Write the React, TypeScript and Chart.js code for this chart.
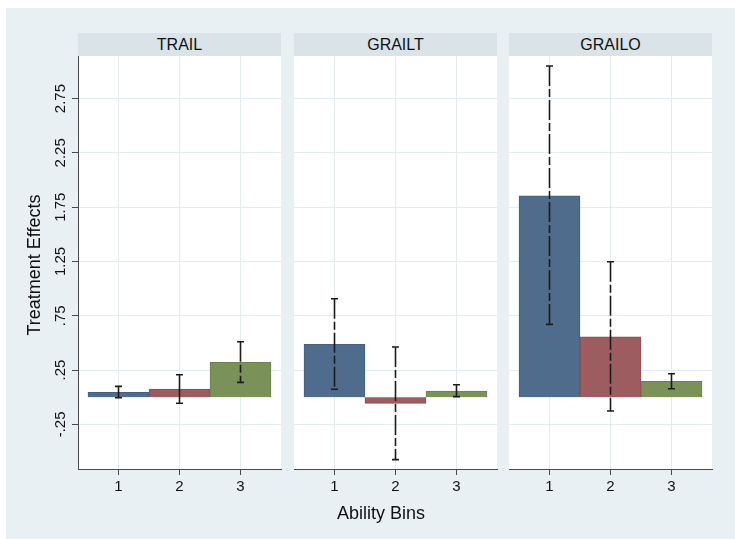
import React, { useEffect, useRef } from "react";
import { Chart, registerables } from "chart.js";

Chart.register(...registerables);

// ---------- data ----------
const panelNames = ["TRAIL", "GRAILT", "GRAILO"];
const binLabels = ["1", "2", "3"];

const trailEffects = [0.045, 0.075, 0.322];
const trailLower = [-0.005, -0.056, 0.137];
const trailUpper = [0.1, 0.207, 0.511];

const grailtEffects = [0.487, -0.056, 0.057];
const grailtLower = [0.073, -0.575, 0.005];
const grailtUpper = [0.907, 0.462, 0.115];

const grailoEffects = [1.855, 0.557, 0.146];
const grailoLower = [0.671, -0.127, 0.078];
const grailoUpper = [3.05, 1.248, 0.216];

const yTickValues = [-0.25, 0.25, 0.75, 1.25, 1.75, 2.25, 2.75];
const yTickLabels = ["-.25", ".25", ".75", "1.25", "1.75", "2.25", "2.75"];

const xTitle = "Ability Bins";
const yTitle = "Treatment Effects";

// ---------- layout / style ----------
const W = 735;
const H = 539;
const FONT = "'Liberation Sans', Arial, Helvetica, sans-serif";
const PANEL_LEFT = [78, 294, 509];
const PANEL_WIDTH = 203;
const STRIP_TOP = 33;
const PLOT_TOP = 56;
const PLOT_BOTTOM = 469;
const X_AXIS_H = 30;
const X_MIN = 0.336;
const X_MAX = 3.664;
const Y_MIN = -0.661;
const Y_MAX = 3.142;
const Y_LABEL_X = 61;

const OUTER_BG = "#e9f0f3";
const STRIP_BG = "#d9e3e8";
const GRID = "#e4ecef";
const AXIS = "#4a4a4a";
const TEXT = "#111111";
const ERR = "#1c1c1c";
const barColors = ["#4f6c8c", "#9d5c5f", "#7a9158"];
const barBorders = ["#42607f", "#8c4e51", "#6b824c"];
const dashedErr = [
  [false, false, true],
  [true, true, false],
  [true, true, false],
];
const DASH = [20, 3, 8, 3];

function Panel(props: {
  index: number;
  effects: number[];
  lower: number[];
  upper: number[];
}) {
  const ref = useRef<HTMLCanvasElement | null>(null);
  const { index, effects, lower, upper } = props;

  useEffect(() => {
    if (!ref.current) return;
    const left = PANEL_LEFT[index];
    const right = left + PANEL_WIDTH;
    const isFirst = index === 0;

    const panelPlugin = {
      id: "panelPlugin" + index,
      beforeDraw(chart: any) {
        const { ctx, chartArea } = chart;
        ctx.save();
        ctx.fillStyle = "#ffffff";
        ctx.fillRect(
          chartArea.left,
          chartArea.top,
          chartArea.right - chartArea.left,
          chartArea.bottom - chartArea.top
        );
        ctx.restore();
      },
      afterDatasetsDraw(chart: any) {
        const { ctx } = chart;
        const xs = chart.scales.x;
        const ys = chart.scales.y;
        ctx.save();
        ctx.strokeStyle = ERR;
        ctx.lineWidth = 1.6;
        for (let i = 0; i < effects.length; i++) {
          const x = xs.getPixelForValue(i + 1);
          const yt = ys.getPixelForValue(upper[i]);
          const yb = ys.getPixelForValue(lower[i]);
          ctx.setLineDash(dashedErr[index][i] ? DASH : []);
          ctx.beginPath();
          ctx.moveTo(x, yt);
          ctx.lineTo(x, yb);
          ctx.stroke();
          ctx.setLineDash([]);
          ctx.beginPath();
          ctx.moveTo(x - 3.5, yt);
          ctx.lineTo(x + 3.5, yt);
          ctx.moveTo(x - 3.5, yb);
          ctx.lineTo(x + 3.5, yb);
          ctx.stroke();
        }
        ctx.restore();
      },
      afterDraw(chart: any) {
        if (!isFirst) return;
        const { ctx } = chart;
        const ys = chart.scales.y;
        ctx.save();
        ctx.fillStyle = TEXT;
        ctx.font = "15px " + FONT;
        ctx.textAlign = "center";
        ctx.textBaseline = "middle";
        yTickValues.forEach((v, i) => {
          const y = ys.getPixelForValue(v);
          ctx.save();
          ctx.translate(Y_LABEL_X, y);
          ctx.rotate(-Math.PI / 2);
          ctx.fillText(yTickLabels[i], 0, 0);
          ctx.restore();
        });
        ctx.restore();
      },
    };

    const chart = new Chart(ref.current, {
      type: "bar",
      data: {
        datasets: [
          {
            data: effects.map((v, i) => ({ x: i + 1, y: v })),
            backgroundColor: barColors,
            borderColor: barBorders,
            borderWidth: 1,
            categoryPercentage: 1,
            barPercentage: 1,
          } as any,
        ],
      },
      options: {
        responsive: false,
        animation: false,
        devicePixelRatio: 1,
        events: [],
        layout: {
          padding: {
            left: left,
            right: W - right,
            top: PLOT_TOP,
            bottom: H - PLOT_BOTTOM - X_AXIS_H,
          },
        },
        plugins: {
          legend: { display: false },
          tooltip: { enabled: false },
        },
        scales: {
          x: {
            type: "linear",
            min: X_MIN,
            max: X_MAX,
            offset: false,
            afterBuildTicks: (s: any) => {
              s.ticks = binLabels.map((_, i) => ({ value: i + 1 }));
            },
            afterFit: (s: any) => {
              s.height = X_AXIS_H;
            },
            ticks: {
              autoSkip: false,
              maxRotation: 0,
              minRotation: 0,
              padding: 3,
              color: TEXT,
              font: { family: FONT, size: 15 },
              callback: (v: any) => binLabels[Math.round(Number(v)) - 1],
            },
            grid: {
              offset: false,
              color: GRID,
              lineWidth: 1,
              tickColor: AXIS,
              tickLength: 6,
              drawTicks: true,
            },
            border: { display: true, color: AXIS, width: 1 },
          } as any,
          y: {
            type: "linear",
            min: Y_MIN,
            max: Y_MAX,
            afterBuildTicks: (s: any) => {
              s.ticks = yTickValues.map((v) => ({ value: v }));
            },
            afterFit: (s: any) => {
              s.width = 0;
            },
            ticks: { display: false },
            grid: {
              color: GRID,
              lineWidth: 1,
              tickColor: AXIS,
              tickLength: 6,
              drawTicks: isFirst,
            },
            border: { display: isFirst, color: AXIS, width: 1 },
          } as any,
        },
      },
      plugins: [panelPlugin],
    });
    return () => chart.destroy();
  }, []);

  return (
    <canvas
      ref={ref}
      width={W}
      height={H}
      style={{ position: "absolute", left: 0, top: 0, width: W, height: H }}
    />
  );
}

export default function App() {
  const effects = [trailEffects, grailtEffects, grailoEffects];
  const lowers = [trailLower, grailtLower, grailoLower];
  const uppers = [trailUpper, grailtUpper, grailoUpper];
  return (
    <div
      style={{
        position: "absolute",
        left: 0,
        top: 0,
        width: W,
        height: H,
        overflow: "hidden",
        fontFamily: FONT,
        background: "#ffffff",
      }}
    >
      <div
        style={{
          position: "absolute",
          left: 6,
          top: 8,
          width: W - 6,
          height: H - 8,
          background: OUTER_BG,
        }}
      />
      {panelNames.map((name, i) => (
        <div
          key={name}
          style={{
            position: "absolute",
            left: PANEL_LEFT[i],
            top: STRIP_TOP,
            width: PANEL_WIDTH,
            height: PLOT_TOP - STRIP_TOP - 0.5,
            lineHeight: PLOT_TOP - STRIP_TOP + "px",
            background: STRIP_BG,
            textAlign: "center",
            fontSize: 16,
            color: TEXT,
          }}
        >
          {name}
        </div>
      ))}
      {panelNames.map((name, i) => (
        <Panel
          key={"p" + name}
          index={i}
          effects={effects[i]}
          lower={lowers[i]}
          upper={uppers[i]}
        />
      ))}
      <div
        style={{
          position: "absolute",
          left: 381 - 100,
          top: 502,
          width: 200,
          height: 22,
          lineHeight: "22px",
          textAlign: "center",
          fontSize: 18,
          color: TEXT,
        }}
      >
        {xTitle}
      </div>
      <div
        style={{
          position: "absolute",
          left: 33.5 - 100,
          top: 265 - 11,
          width: 200,
          height: 22,
          lineHeight: "22px",
          textAlign: "center",
          fontSize: 18,
          color: TEXT,
          transform: "rotate(-90deg)",
          whiteSpace: "nowrap",
        }}
      >
        {yTitle}
      </div>
    </div>
  );
}
